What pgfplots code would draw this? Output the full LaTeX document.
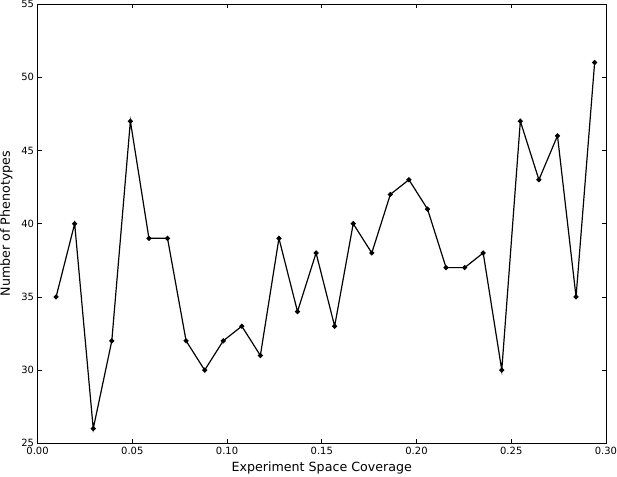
\documentclass[border=0pt]{standalone}
\usepackage{pgfplots}
\pgfplotsset{compat=1.18}
\usepackage{fontspec}
\setmainfont{DejaVu Sans}

\begin{document}
\begin{tikzpicture}
\begin{axis}[
    width=568bp, height=439bp,
    scale only axis,
    xmin=0, xmax=0.30,
    ymin=25, ymax=55,
    xtick={0,0.05,...,0.30},
    ytick={25,30,...,55},
    xticklabel style={/pgf/number format/.cd, fixed, fixed zerofill, precision=2, assume math mode=true},
    yticklabel style={/pgf/number format/assume math mode=true},
    ticklabel style={font=\fontsize{10}{12}\selectfont},
    tick align=inside,
    major tick length=4bp,
    tick style={black, line width=0.6pt},
    axis line style={black, line width=0.9pt},
    xlabel={Experiment Space Coverage},
    ylabel={Number of Phenotypes},
    label style={font=\fontsize{12.7}{15}\selectfont},
    xlabel style={yshift=-1bp},
    ylabel style={yshift=2bp},
    scaled x ticks=false,
]
\addplot[black, line width=1.2pt, mark=*, mark size=1.9pt] coordinates {
    (0.0098,35) (0.0196,40) (0.0294,26) (0.0392,32) (0.0490,47)
    (0.0588,39) (0.0686,39) (0.0784,32) (0.0882,30) (0.0980,32)
    (0.1078,33) (0.1176,31) (0.1274,39) (0.1372,34) (0.1470,38)
    (0.1568,33) (0.1666,40) (0.1764,38) (0.1862,42) (0.1960,43)
    (0.2058,41) (0.2156,37) (0.2254,37) (0.2352,38) (0.2450,30)
    (0.2548,47) (0.2646,43) (0.2744,46) (0.2842,35) (0.2940,51)
};
\end{axis}
\pgfresetboundingbox
\path ([xshift=-37.5bp,yshift=-33bp]current axis.south west) rectangle ([xshift=11bp,yshift=4bp]current axis.north east);
\end{tikzpicture}
\end{document}
